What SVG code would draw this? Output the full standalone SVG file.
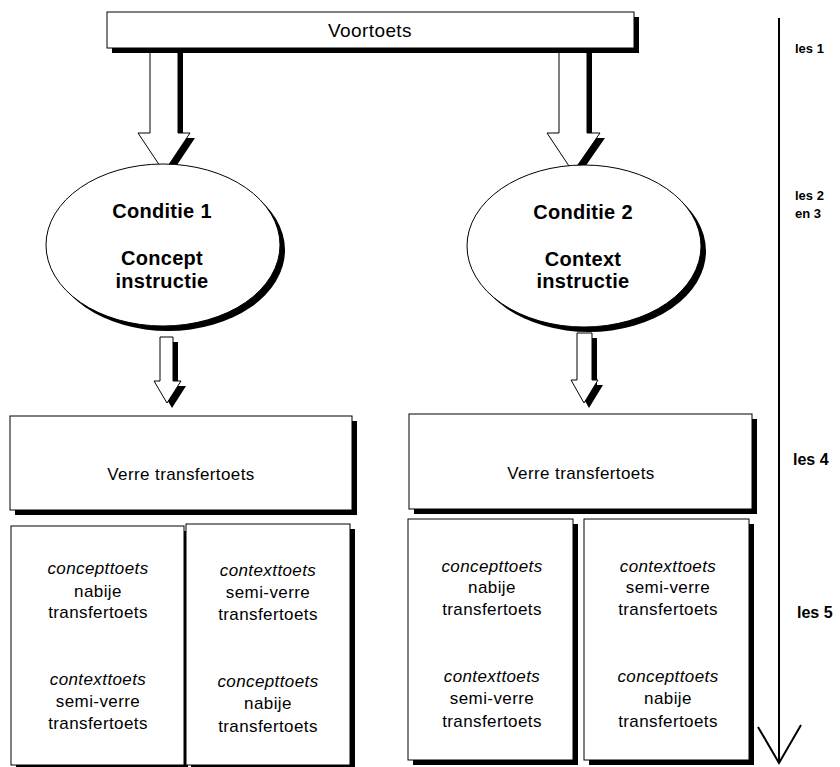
<svg xmlns="http://www.w3.org/2000/svg" width="840" height="767" viewBox="0 0 840 767">
<style>
.sh{fill:#000;stroke:none}
.bx{fill:#fff;stroke:#000;stroke-width:1}
.ar{fill:#fff;stroke:#000;stroke-width:1}
.t{font-family:"Liberation Sans",Arial,sans-serif;fill:#000;text-anchor:middle}
.n{font-size:17px;letter-spacing:0.4px}
.i{font-size:17px;letter-spacing:0.4px;font-style:italic}
.b{font-size:20px;font-weight:bold;letter-spacing:0.3px}
.l{font-family:"Liberation Sans",Arial,sans-serif;font-weight:bold;fill:#000}
</style>
<rect width="840" height="767" fill="#fff"/>
<g id="connectors">
  <polygon class="sh" points="155,53 183,53 183,138 195,138 169,177 143,138 155,138"/>
  <polygon class="ar" points="150,48 178,48 178,133 190,133 164,172 138,133 150,133"/>
  <polygon class="sh" points="564,53 592,53 592,138 605,138 578,177 552,138 564,138"/>
  <polygon class="ar" points="559,48 587,48 587,133 600,133 573,172 547,133 559,133"/>
</g>
<g id="voortoets">
  <rect class="sh" x="112" y="17" width="527" height="36"/>
  <rect class="bx" x="107" y="12" width="527" height="36"/>
  <text class="t" x="370" y="37" style="font-size:19px;letter-spacing:0.4px">Voortoets</text>
</g>
<g id="connectors-small">
  <polygon class="sh" points="165,342 178,342 178,386 186,386 172,408 159,386 165,386"/>
  <polygon class="ar" points="160,337 173,337 173,381 181,381 167,403 154,381 160,381"/>
  <polygon class="sh" points="582,338 597,338 597,385 603,385 589,408 576,385 582,385"/>
  <polygon class="ar" points="577,333 592,333 592,380 598,380 584,403 571,380 577,380"/>
</g>
<g id="conditie1">
  <ellipse class="sh" cx="168" cy="250" rx="117" ry="81"/>
  <ellipse class="bx" cx="163" cy="245" rx="117" ry="81"/>
  <text class="t b" x="162" y="218">Conditie 1</text>
  <text class="t b" x="162" y="265">Concept</text>
  <text class="t b" x="162" y="288">instructie</text>
</g>
<g id="conditie2">
  <ellipse class="sh" cx="589" cy="251" rx="117" ry="81"/>
  <ellipse class="bx" cx="584" cy="246" rx="117" ry="81"/>
  <text class="t b" x="583" y="219">Conditie 2</text>
  <text class="t b" x="583" y="266">Context</text>
  <text class="t b" x="583" y="288">instructie</text>
</g>
<g id="verre1">
  <rect class="sh" x="15" y="421" width="342" height="94"/>
  <rect class="bx" x="10" y="416" width="342" height="94"/>
  <text class="t n" x="181" y="480">Verre transfertoets</text>
</g>
<g id="verre2">
  <rect class="sh" x="414" y="419" width="343" height="95"/>
  <rect class="bx" x="409" y="414" width="343" height="95"/>
  <text class="t n" x="581" y="479">Verre transfertoets</text>
</g>
<g id="box1a">
  <rect class="sh" x="16" y="531" width="172" height="239"/>
  <rect class="bx" x="11" y="526" width="173" height="239"/>
  <text class="t i" x="98" y="574">concepttoets</text>
  <text class="t n" x="98" y="597">nabije</text>
  <text class="t n" x="98" y="618">transfertoets</text>
  <text class="t i" x="98" y="685">contexttoets</text>
  <text class="t n" x="98" y="707">semi-verre</text>
  <text class="t n" x="98" y="729">transfertoets</text>
</g>
<g id="box1b">
  <rect class="sh" x="191" y="529" width="164" height="241"/>
  <rect class="bx" x="186" y="524" width="164" height="241"/>
  <text class="t i" x="268" y="576">contexttoets</text>
  <text class="t n" x="268" y="598">semi-verre</text>
  <text class="t n" x="268" y="620">transfertoets</text>
  <text class="t i" x="268" y="687">concepttoets</text>
  <text class="t n" x="268" y="709">nabije</text>
  <text class="t n" x="268" y="732">transfertoets</text>
</g>
<g id="box2a">
  <rect class="sh" x="413" y="524" width="165" height="241"/>
  <rect class="bx" x="408" y="519" width="165" height="241"/>
  <text class="t i" x="492" y="572">concepttoets</text>
  <text class="t n" x="492" y="593">nabije</text>
  <text class="t n" x="492" y="615">transfertoets</text>
  <text class="t i" x="492" y="682">contexttoets</text>
  <text class="t n" x="492" y="704">semi-verre</text>
  <text class="t n" x="492" y="727">transfertoets</text>
</g>
<g id="box2b">
  <rect class="sh" x="589" y="524" width="165" height="241"/>
  <rect class="bx" x="584" y="519" width="165" height="241"/>
  <text class="t i" x="668" y="572">contexttoets</text>
  <text class="t n" x="668" y="593">semi-verre</text>
  <text class="t n" x="668" y="615">transfertoets</text>
  <text class="t i" x="668" y="682">concepttoets</text>
  <text class="t n" x="668" y="704">nabije</text>
  <text class="t n" x="668" y="727">transfertoets</text>
</g>
<g id="timeline">
  <line x1="779" y1="18" x2="779" y2="762" stroke="#000" stroke-width="2"/>
  <polyline points="758,727 779,763 801,725" fill="none" stroke="#000" stroke-width="2"/>
  <text class="l" x="795" y="53" style="font-size:13px">les 1</text>
  <text class="l" x="795" y="200" style="font-size:13px">les 2</text>
  <text class="l" x="795" y="218" style="font-size:13px">en 3</text>
  <text class="l" x="793" y="465" style="font-size:16px">les 4</text>
  <text class="l" x="797" y="618" style="font-size:16px">les 5</text>
</g>
</svg>
